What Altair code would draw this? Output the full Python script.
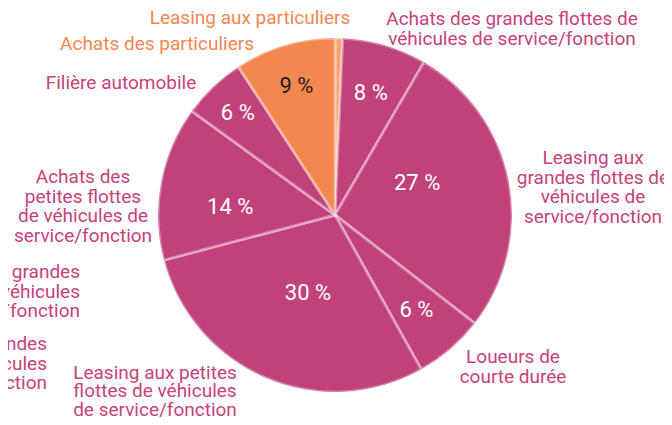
import altair as alt
import pandas as pd

# Slices, clockwise from 12 o'clock
categories = [
    "Leasing aux particuliers",
    "Achats des grandes flottes de véhicules de service/fonction",
    "Leasing aux grandes flottes de véhicules de service/fonction",
    "Loueurs de courte durée",
    "Leasing aux petites flottes de véhicules de service/fonction",
    "Achats des petites flottes de véhicules de service/fonction",
    "Filière automobile",
    "Achats des particuliers",
]
values = [0.7, 7.7, 27.1, 6.4, 29.0, 14.1, 5.8, 9.2]
pct_labels = ["", "8 %", "27 %", "6 %", "30 %", "14 %", "6 %", "9 %"]

MAGENTA = "#C1427A"
ORANGE = "#F38750"
slice_colors = ["#F7A273", MAGENTA, MAGENTA, MAGENTA, MAGENTA, MAGENTA, MAGENTA, ORANGE]
pct_colors = ["white", "white", "white", "white", "white", "white", "white", "#231F20"]
# label placement inside the slices (layout only)
pct_radius = [150, 127, 88, 125, 83, 105, 141, 135]
pct_shift_deg = [0, 0, -10, 0, -4, -6.5, 0, 0]

# Outer category labels (line-broken as in the picture)
outer_lines = [
    ["Leasing aux particuliers"],
    ["Achats des particuliers"],
    ["Filière automobile"],
    ["Achats des grandes flottes de", "véhicules de service/fonction"],
    ["Leasing aux", "grandes flottes de", "véhicules de", "service/fonction"],
    ["Loueurs de", "courte durée"],
    ["Achats des", "petites flottes", "de véhicules de", "service/fonction"],
]
LABEL_MAGENTA = "#C6427D"
outer_colors = [ORANGE, ORANGE] + [LABEL_MAGENTA] * 5
outer_x = [242, 149, 113, 504, 585, 505, 75]
outer_y = [10, 36, 75, 11, 150, 349, 169]

# bottom label, slightly tighter so it stays inside the page
bottom_lines = [["Leasing aux petites", "flottes de véhicules", "de service/fonction"]]
bottom_x = [147]
bottom_y = [365]

# Fragments of neighbouring labels cut by the image's left edge
frag_lines = [["s grandes", "véhicules", "e/fonction"], ["andes", "cules", "ction"]]
frag_x = [72, 39]
frag_y = [264, 336]

CX, CY, R = 327, 207, 177

df = pd.DataFrame({
    "category": categories,
    "value": values,
    "order": list(range(len(values))),
    "pct": pct_labels,
    "fill": slice_colors,
    "tcolor": pct_colors,
    "r": pct_radius,
    "shift": pct_shift_deg,
})

arcs = alt.Chart(df).mark_arc(
    outerRadius=R, stroke="white", strokeOpacity=0.35, strokeWidth=3
).encode(
    theta=alt.Theta("value:Q", stack=True),
    order=alt.Order("order:Q", sort="ascending"),
    color=alt.Color("fill:N", scale=None),
    x=alt.value(CX), y=alt.value(CY),
)

pct_text = alt.Chart(df).transform_joinaggregate(
    total="sum(value)"
).transform_window(
    cum="sum(value)", sort=[alt.SortField("order")], frame=[None, 0]
).transform_calculate(
    mid="(datum.cum - datum.value / 2) / datum.total * 2 * PI + datum.shift * PI / 180",
    px=f"{CX} + datum.r * sin(datum.mid)",
    py=f"{CY} - datum.r * cos(datum.mid)",
).mark_text(font="Roboto", fontSize=22, align="center", baseline="middle").encode(
    text="pct:N",
    x=alt.X("px:Q", scale=None),
    y=alt.Y("py:Q", scale=None),
    color=alt.Color("tcolor:N", scale=None),
)

outer_df = pd.DataFrame({"t": outer_lines, "c": outer_colors, "x": outer_x, "y": outer_y})
outer_text = alt.Chart(outer_df).mark_text(
    font="Roboto", fontSize=19, lineHeight=19.5, align="center", baseline="middle"
).encode(
    text="t",
    x=alt.X("x:Q", scale=None),
    y=alt.Y("y:Q", scale=None),
    color=alt.Color("c:N", scale=None),
)

bottom_df = pd.DataFrame({"t": bottom_lines, "x": bottom_x, "y": bottom_y})
bottom_text = alt.Chart(bottom_df).mark_text(
    font="Roboto", fontSize=19, lineHeight=18.3, align="center", baseline="middle", color=LABEL_MAGENTA
).encode(
    text="t",
    x=alt.X("x:Q", scale=None),
    y=alt.Y("y:Q", scale=None),
)

frag_df = pd.DataFrame({"t": frag_lines, "x": frag_x, "y": frag_y})
frag_text = alt.Chart(frag_df).mark_text(
    font="Roboto", fontSize=19, lineHeight=19.5, align="right", baseline="middle", color=LABEL_MAGENTA
).encode(
    text="t",
    x=alt.X("x:Q", scale=None),
    y=alt.Y("y:Q", scale=None),
)

chart = alt.layer(arcs, pct_text, outer_text, bottom_text, frag_text).properties(
    width=656, height=409, padding=0,
    autosize=alt.AutoSizeParams(type="none"),
    background="white",
).configure_view(stroke=None)

chart.save("out.html", embed_options={"renderer": "svg", "actions": False})
